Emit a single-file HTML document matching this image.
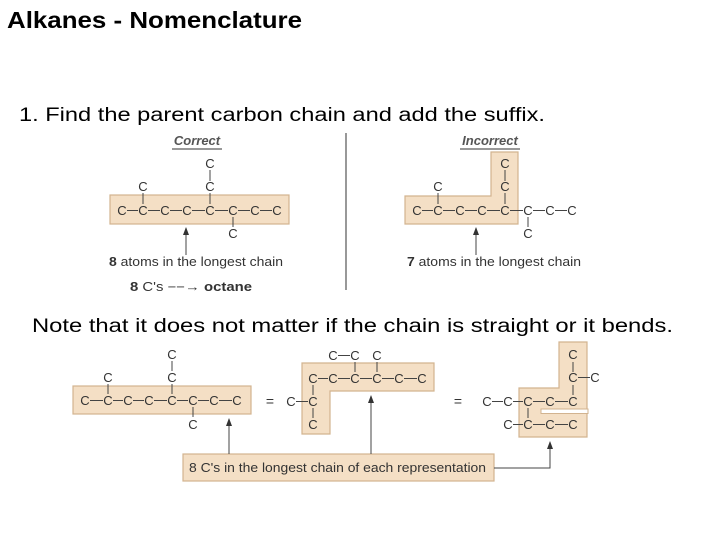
<!DOCTYPE html>
<html><head><style>
body{margin:0;background:#fff;}
svg{display:block;}
text{font-family:"Liberation Sans",Arial,sans-serif;}
.c text{font-size:13px;fill:#333;text-anchor:middle;}
.c line{stroke:#444;stroke-width:1;}
.b{fill:#f4dfc5;stroke:#d2b38f;stroke-width:1.2;}
.l{stroke:#444;stroke-width:1;}
</style></head><body>
<svg width="720" height="540" viewBox="0 0 720 540">
<defs><marker id="a" markerWidth="8" markerHeight="8" refX="4" refY="1" orient="0" markerUnits="userSpaceOnUse"><path d="M1,8 L4,0 L7,8 Z" fill="#333"/></marker></defs>
<text x="7" y="28" font-size="23" font-weight="bold" fill="#000" textLength="295" lengthAdjust="spacingAndGlyphs">Alkanes - Nomenclature</text>
<text x="19" y="121" font-size="19" fill="#000" textLength="526" lengthAdjust="spacingAndGlyphs">1. Find the parent carbon chain and add the suffix.</text>
<text x="32" y="332" font-size="19" fill="#000" textLength="641" lengthAdjust="spacingAndGlyphs">Note that it does not matter if the chain is straight or it bends.</text>
<line x1="346" y1="133" x2="346" y2="290" stroke="#555" stroke-width="1.2"/>

<text x="197" y="145" font-size="13" font-weight="bold" font-style="italic" fill="#555" text-anchor="middle">Correct</text>
<line x1="172" y1="149" x2="222" y2="149" stroke="#777" stroke-width="1.5"/>
<rect class="b" x="110" y="195" width="179" height="29"/>
<g class="c">
<text x="122" y="215">C</text><text x="143" y="215">C</text><text x="165" y="215">C</text><text x="187" y="215">C</text><text x="210" y="215">C</text><text x="233" y="215">C</text><text x="255" y="215">C</text><text x="277" y="215">C</text>
<line x1="127" y1="210.5" x2="138" y2="210.5"/><line x1="148" y1="210.5" x2="160" y2="210.5"/><line x1="170" y1="210.5" x2="182" y2="210.5"/><line x1="192" y1="210.5" x2="205" y2="210.5"/><line x1="215" y1="210.5" x2="228" y2="210.5"/><line x1="238" y1="210.5" x2="250" y2="210.5"/><line x1="260" y1="210.5" x2="272" y2="210.5"/>
<text x="143" y="191">C</text><line x1="143" y1="193" x2="143" y2="204"/>
<text x="210" y="191">C</text><line x1="210" y1="193" x2="210" y2="204"/>
<text x="210" y="168">C</text><line x1="210" y1="170" x2="210" y2="181"/>
<text x="233" y="238">C</text><line x1="233" y1="217" x2="233" y2="227"/>
</g>
<line x1="186" y1="255" x2="186" y2="228" class="l" marker-end="url(#a)"/>
<text x="109" y="266" font-size="12.5" fill="#333" textLength="174" lengthAdjust="spacingAndGlyphs"><tspan font-weight="bold">8</tspan> atoms in the longest chain</text>
<text x="130" y="291" font-size="12.5" fill="#333" textLength="122" lengthAdjust="spacingAndGlyphs"><tspan font-weight="bold">8</tspan> C's −−→ <tspan font-weight="bold">octane</tspan></text>

<text x="490" y="145" font-size="13" font-weight="bold" font-style="italic" fill="#555" text-anchor="middle">Incorrect</text>
<line x1="460" y1="149" x2="520" y2="149" stroke="#777" stroke-width="1.5"/>
<path class="b" d="M405,196 H491 V152 H518 V224 H405 Z"/>
<g class="c">
<text x="417" y="215">C</text><text x="438" y="215">C</text><text x="460" y="215">C</text><text x="482" y="215">C</text><text x="505" y="215">C</text><text x="528" y="215">C</text><text x="550" y="215">C</text><text x="572" y="215">C</text>
<line x1="422" y1="210.5" x2="433" y2="210.5"/><line x1="443" y1="210.5" x2="455" y2="210.5"/><line x1="465" y1="210.5" x2="477" y2="210.5"/><line x1="487" y1="210.5" x2="500" y2="210.5"/><line x1="510" y1="210.5" x2="523" y2="210.5"/><line x1="533" y1="210.5" x2="545" y2="210.5"/><line x1="555" y1="210.5" x2="567" y2="210.5"/>
<text x="438" y="191">C</text><line x1="438" y1="193" x2="438" y2="204"/>
<text x="505" y="191">C</text><line x1="505" y1="193" x2="505" y2="204"/>
<text x="505" y="168">C</text><line x1="505" y1="170" x2="505" y2="181"/>
<text x="528" y="238">C</text><line x1="528" y1="217" x2="528" y2="227"/>
</g>
<text x="407" y="266" font-size="12.5" fill="#333" textLength="174" lengthAdjust="spacingAndGlyphs"><tspan font-weight="bold">7</tspan> atoms in the longest chain</text>
<line x1="476" y1="255" x2="476" y2="228" class="l" marker-end="url(#a)"/>

<rect class="b" x="73" y="386" width="178" height="28"/>
<g class="c">
<text x="85" y="405">C</text><text x="108" y="405">C</text><text x="128" y="405">C</text><text x="149" y="405">C</text><text x="172" y="405">C</text><text x="193" y="405">C</text><text x="214" y="405">C</text><text x="237" y="405">C</text>
<line x1="90" y1="400.5" x2="103" y2="400.5"/><line x1="113" y1="400.5" x2="123" y2="400.5"/><line x1="133" y1="400.5" x2="144" y2="400.5"/><line x1="154" y1="400.5" x2="167" y2="400.5"/><line x1="177" y1="400.5" x2="188" y2="400.5"/><line x1="198" y1="400.5" x2="209" y2="400.5"/><line x1="219" y1="400.5" x2="232" y2="400.5"/>
<text x="108" y="382">C</text><line x1="108" y1="384" x2="108" y2="394"/>
<text x="172" y="382">C</text><line x1="172" y1="384" x2="172" y2="394"/>
<text x="172" y="359">C</text><line x1="172" y1="361" x2="172" y2="371"/>
<text x="193" y="429">C</text><line x1="193" y1="407" x2="193" y2="417"/>
</g>
<text x="270" y="406" font-size="14" fill="#333" text-anchor="middle">=</text>

<path class="b" d="M302,363 H434 V391 H330 V434 H302 Z"/>
<g class="c">
<text x="313" y="383">C</text><text x="333" y="383">C</text><text x="355" y="383">C</text><text x="377" y="383">C</text><text x="399" y="383">C</text><text x="422" y="383">C</text>
<line x1="318" y1="378.5" x2="328" y2="378.5"/><line x1="338" y1="378.5" x2="350" y2="378.5"/><line x1="360" y1="378.5" x2="372" y2="378.5"/><line x1="382" y1="378.5" x2="394" y2="378.5"/><line x1="404" y1="378.5" x2="417" y2="378.5"/>
<text x="333" y="360">C</text><text x="355" y="360">C</text><text x="377" y="360">C</text>
<line x1="338" y1="355.5" x2="350" y2="355.5"/>
<line x1="355" y1="362" x2="355" y2="372"/><line x1="377" y1="362" x2="377" y2="372"/>
<text x="291" y="406">C</text><text x="313" y="406">C</text>
<line x1="296" y1="401.5" x2="308" y2="401.5"/>
<line x1="313" y1="385" x2="313" y2="395"/><line x1="313" y1="408" x2="313" y2="418"/>
<text x="313" y="429">C</text>
</g>
<text x="458" y="406" font-size="14" fill="#333" text-anchor="middle">=</text>

<path class="b" d="M559,342 H587 V437 H519 V388 H559 Z"/>
<rect x="541" y="409" width="47" height="4.5" fill="#fff" stroke="#d2b38f" stroke-width="1"/>
<g class="c">
<text x="573" y="359">C</text><text x="573" y="382">C</text><text x="595" y="382">C</text>
<line x1="573" y1="362" x2="573" y2="372"/><line x1="578" y1="377.5" x2="590" y2="377.5"/><line x1="573" y1="385" x2="573" y2="395"/>
<text x="487" y="406">C</text><text x="508" y="406">C</text><text x="528" y="406">C</text><text x="550" y="406">C</text><text x="573" y="406">C</text>
<line x1="492" y1="401.5" x2="503" y2="401.5"/><line x1="513" y1="401.5" x2="523" y2="401.5"/><line x1="533" y1="401.5" x2="545" y2="401.5"/><line x1="555" y1="401.5" x2="568" y2="401.5"/>
<line x1="528" y1="408" x2="528" y2="418"/>
<text x="508" y="429">C</text><text x="528" y="429">C</text><text x="550" y="429">C</text><text x="573" y="429">C</text>
<line x1="513" y1="424.5" x2="523" y2="424.5"/><line x1="533" y1="424.5" x2="545" y2="424.5"/><line x1="555" y1="424.5" x2="568" y2="424.5"/>
</g>

<rect class="b" x="183" y="454" width="311" height="27"/>
<text x="189" y="472" font-size="12.5" fill="#333" textLength="297" lengthAdjust="spacingAndGlyphs">8 C's in the longest chain of each representation</text>
<line x1="229" y1="454" x2="229" y2="419" class="l" marker-end="url(#a)"/>
<line x1="371" y1="454" x2="371" y2="396" class="l" marker-end="url(#a)"/>
<polyline points="494,468 550,468 550,442" fill="none" stroke="#444" stroke-width="1" marker-end="url(#a)"/>
</svg>
</body></html>
